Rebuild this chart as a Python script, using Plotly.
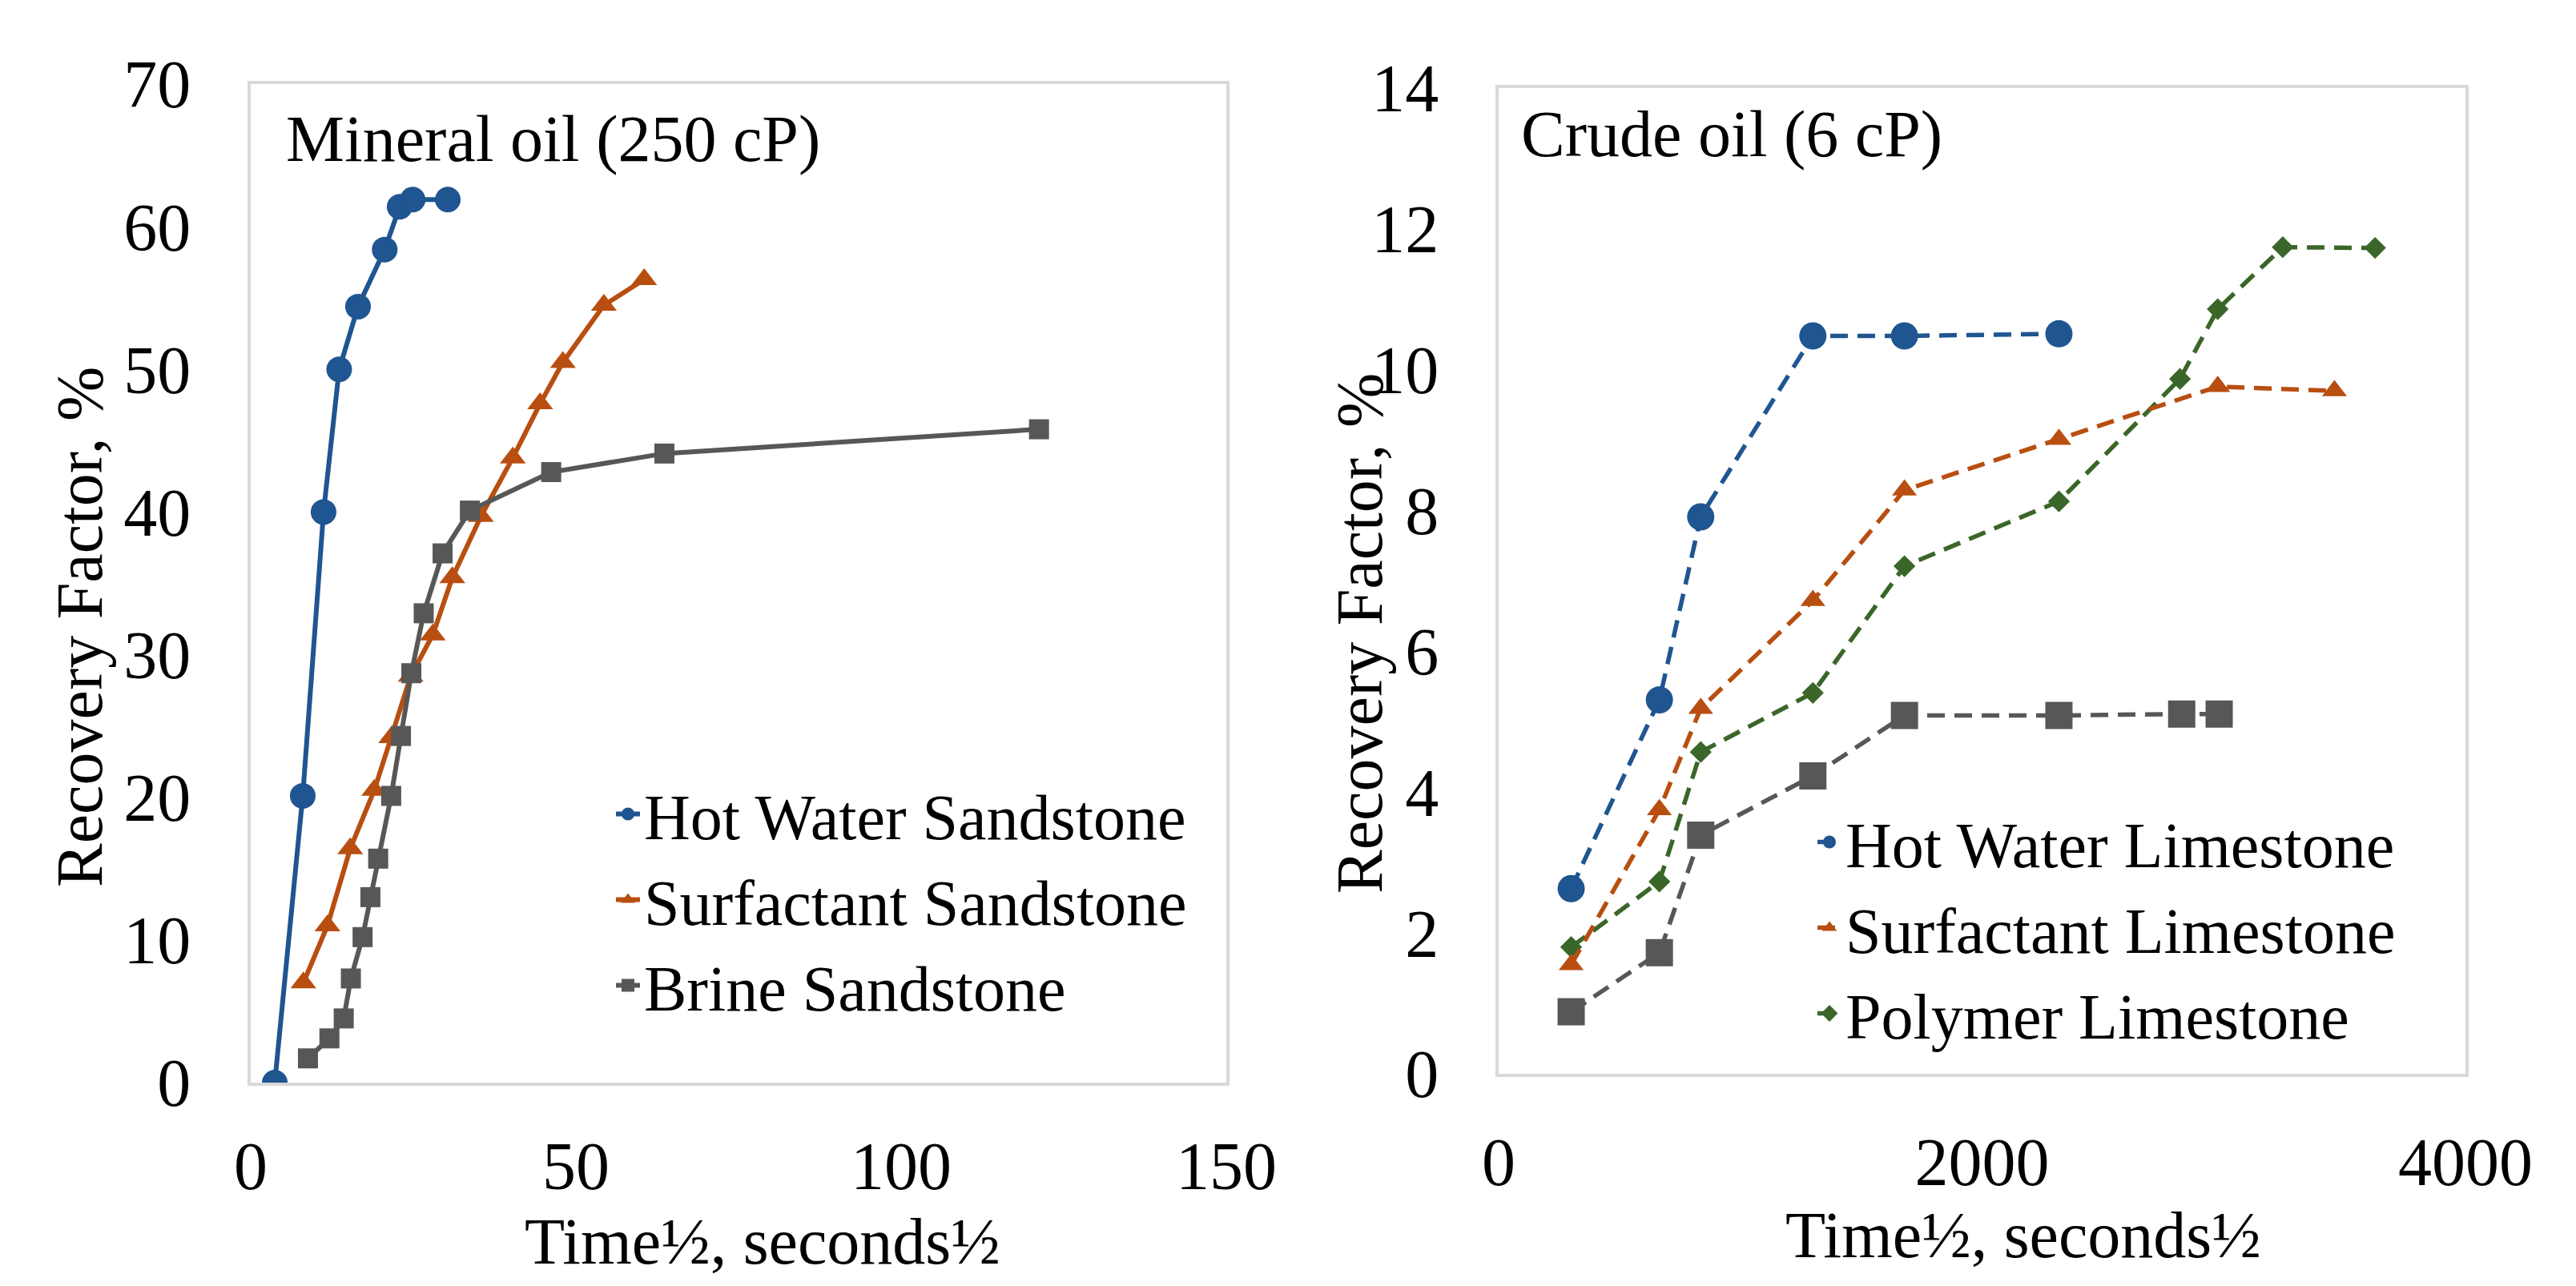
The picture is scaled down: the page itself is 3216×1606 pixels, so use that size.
import plotly.graph_objects as go

# ---------------- Data: Mineral oil (250 cP), sandstone ----------------
hw_sand_x = [3.7, 8.0, 11.2, 13.6, 16.5, 20.6, 22.9, 24.9, 30.3]
hw_sand_y = [0.0, 20.1, 40.0, 50.0, 54.4, 58.4, 61.4, 61.9, 61.9]

surf_sand_x = [8.1, 11.8, 15.3, 19.0, 21.6, 24.6, 28.0, 31.0, 35.4, 40.3, 44.5, 48.0, 54.3, 60.5]
surf_sand_y = [7.0, 11.0, 16.4, 20.5, 24.2, 28.5, 31.4, 35.4, 39.7, 43.8, 47.6, 50.5, 54.5, 56.3]

brine_sand_x = [8.8, 12.1, 14.3, 15.4, 17.2, 18.4, 19.6, 21.6, 23.1, 24.7, 26.6, 29.5, 33.7, 46.2, 63.6, 121.2]
brine_sand_y = [1.7, 3.1, 4.5, 7.3, 10.2, 13.0, 15.7, 20.1, 24.3, 28.7, 32.9, 37.1, 40.1, 42.8, 44.1, 45.8]

# ---------------- Data: Crude oil (6 cP), limestone ----------------
hw_lime_x = [300, 665, 836, 1300, 1679, 2318]
hw_lime_y = [2.63, 5.31, 7.91, 10.48, 10.48, 10.51]

surf_lime_x = [300, 665, 836, 1300, 1679, 2318, 2975, 3458]
surf_lime_y = [1.55, 3.75, 5.19, 6.72, 8.29, 9.01, 9.76, 9.70]

poly_lime_x = [300, 665, 836, 1300, 1679, 2318, 2819, 2975, 3244, 3626]
poly_lime_y = [1.80, 2.73, 4.57, 5.41, 7.21, 8.13, 9.87, 10.86, 11.74, 11.73]

brine_lime_x = [300, 665, 836, 1300, 1679, 2318, 2826, 2981]
brine_lime_y = [0.88, 1.72, 3.39, 4.23, 5.09, 5.09, 5.11, 5.11]

left_xticks = [0, 50, 100, 150]
left_yticks = [0, 10, 20, 30, 40, 50, 60, 70]
right_xticks = [0, 2000, 4000]
right_yticks = [0, 2, 4, 6, 8, 10, 12, 14]

BLUE = "#1f5591"
ORANGE = "#b84e10"
GRAY = "#575757"
GREEN = "#3b6629"
FONT = "Liberation Serif"

W, H = 3216, 1606

fig = go.Figure()

# Left panel
fig.add_trace(go.Scatter(x=hw_sand_x, y=hw_sand_y, mode="lines+markers", name="Hot Water Sandstone",
                         line=dict(color=BLUE, width=6), marker=dict(symbol="circle", size=32, color=BLUE),
                         xaxis="x", yaxis="y", legend="legend"))
fig.add_trace(go.Scatter(x=surf_sand_x, y=surf_sand_y, mode="lines+markers", name="Surfactant Sandstone",
                         line=dict(color=ORANGE, width=6), marker=dict(symbol="triangle-up", size=28, color=ORANGE),
                         xaxis="x", yaxis="y", legend="legend"))
fig.add_trace(go.Scatter(x=brine_sand_x, y=brine_sand_y, mode="lines+markers", name="Brine Sandstone",
                         line=dict(color=GRAY, width=6), marker=dict(symbol="square", size=25, color=GRAY),
                         xaxis="x", yaxis="y", legend="legend"))

# Right panel
dash = "22px,12px"
fig.add_trace(go.Scatter(x=brine_lime_x, y=brine_lime_y, mode="lines+markers", name="Brine Limestone",
                         line=dict(color=GRAY, width=5.5, dash=dash), marker=dict(symbol="square", size=34, color=GRAY),
                         xaxis="x2", yaxis="y2", showlegend=False))
fig.add_trace(go.Scatter(x=poly_lime_x, y=poly_lime_y, mode="lines+markers", name="Polymer Limestone",
                         line=dict(color=GREEN, width=5.5, dash=dash), marker=dict(symbol="diamond", size=21, color=GREEN),
                         xaxis="x2", yaxis="y2", legend="legend2", legendrank=3))
fig.add_trace(go.Scatter(x=surf_lime_x, y=surf_lime_y, mode="lines+markers", name="Surfactant Limestone",
                         line=dict(color=ORANGE, width=5.5, dash=dash), marker=dict(symbol="triangle-up", size=27, color=ORANGE),
                         xaxis="x2", yaxis="y2", legend="legend2", legendrank=2))
fig.add_trace(go.Scatter(x=hw_lime_x, y=hw_lime_y, mode="lines+markers", name="Hot Water Limestone",
                         line=dict(color=BLUE, width=5.5, dash=dash), marker=dict(symbol="circle", size=34, color=BLUE),
                         xaxis="x2", yaxis="y2", legend="legend2", legendrank=1))

axis_common = dict(showgrid=False, zeroline=False, showline=True, mirror=True,
                   linecolor="#d9d9d9", linewidth=4, ticks="outside", automargin=False,
                   tickcolor="rgba(0,0,0,0)", tickfont=dict(family=FONT, size=84, color="black"))

fig.update_layout(
    width=W, height=H, autosize=False,
    margin=dict(l=0, r=0, t=0, b=0, pad=0, autoexpand=False),
    paper_bgcolor="white", plot_bgcolor="white",
    font=dict(family=FONT, color="black"),
    xaxis=dict(domain=[305 / W, 1523 / W], range=[0, 150], tickvals=left_xticks, ticklen=28,
               anchor="y", **axis_common),
    yaxis=dict(domain=[1 - 1344 / H, 1 - 97 / H], range=[0, 70], tickvals=left_yticks, ticklen=54,
               anchor="x", **axis_common),
    xaxis2=dict(domain=[1863 / W, 3070 / W], range=[0, 4000], tickvals=right_xticks, ticklen=34,
                anchor="y2", **axis_common),
    yaxis2=dict(domain=[1 - 1333 / H, 1 - 102 / H], range=[0, 14], tickvals=right_yticks, ticklen=54,
                anchor="x2", **axis_common),
    legend=dict(x=756 / W, y=1 - 950 / H, xanchor="left", yanchor="top", bgcolor="rgba(0,0,0,0)",
                font=dict(family=FONT, size=80, color="black"), itemwidth=30, tracegroupgap=0),
    legend2=dict(x=2256 / W, y=1 - 985 / H, xanchor="left", yanchor="top", bgcolor="rgba(0,0,0,0)",
                 font=dict(family=FONT, size=80, color="black"), itemwidth=30, tracegroupgap=0,
                 traceorder="normal"),
    showlegend=True,
)

ann_font = dict(family=FONT, size=82, color="black")
annotations = [
    dict(text="Mineral oil (250 cP)", x=347 / W, y=1 - 166 / H, xanchor="left", yanchor="middle"),
    dict(text="Crude oil (6 cP)", x=1889 / W, y=1 - 160 / H, xanchor="left", yanchor="middle"),
    dict(text="Time½, seconds½", x=944 / W, y=1 - 1542 / H, xanchor="center", yanchor="middle"),
    dict(text="Time½, seconds½", x=2518 / W, y=1 - 1534 / H, xanchor="center", yanchor="middle"),
    dict(text="Recovery Factor, %", x=92 / W, y=1 - 775 / H, xanchor="center", yanchor="middle", textangle=-90),
    dict(text="Recovery Factor, %", x=1690 / W, y=1 - 783 / H, xanchor="center", yanchor="middle", textangle=-90),
]
for a in annotations:
    fig.add_annotation(xref="paper", yref="paper", showarrow=False, font=ann_font, **a)

fig.write_html("out.html")
